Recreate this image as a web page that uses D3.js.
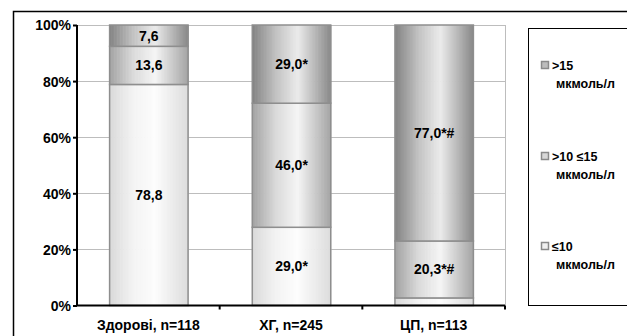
<!DOCTYPE html>
<html>
<head>
<meta charset="utf-8">
<script src="https://cdn.jsdelivr.net/npm/d3@7/dist/d3.min.js"></script>
<style>
  html, body { margin: 0; padding: 0; background: #fff; }
  svg { display: block; }
  svg text { font-family: "Liberation Sans", Arial, sans-serif; font-weight: bold; fill: #000; }
</style>
</head>
<body>
<svg id="chart" width="627" height="336"></svg>
<script>
// Groups along the x axis
const categories = ["Здорові, n=118", "ХГ, n=245", "ЦП, n=113"];
// Series, bottom to top: share of patients in each level band (%)
const seriesNames = ["≤10 мкмоль/л", ">10 ≤15 мкмоль/л", ">15 мкмоль/л"];
const low  = [78.8, 29.0, 2.7];
const mid  = [13.6, 46.0, 20.3];
const high = [7.6, 29.0, 77.0];
// Printed value labels
const lowLabels  = ["78,8", "29,0*", ""];
const midLabels  = ["13,6", "46,0*", "20,3*#"];
const highLabels = ["7,6", "29,0*", "77,0*#"];
const yTicks = [0, 0.2, 0.4, 0.6, 0.8, 1];

const svg = d3.select("#chart");

// cylinder shading per series: colour across the bar width (0 = left edge, 1 = right edge)
const shadeStops = [0, 0.3, 0.58, 1];
const shades = [
  ["#d9d9d9", "#f3f3f3", "#fdfdfd", "#dcdcdc"],
  ["#a2a2a2", "#dadada", "#f5f5f5", "#a4a4a4"],
  ["#838383", "#c2c2c2", "#ebebeb", "#888888"]
].map(c => d3.scaleLinear().domain(shadeStops).range(c).interpolate(d3.interpolateRgb));
const STRIPS = 52;

// outer frame
svg.append("rect")
  .attr("x", 13.5).attr("y", 11.5).attr("width", 660).attr("height", 360)
  .attr("fill", "#fff").attr("stroke", "#000").attr("stroke-width", 1.5);

const plotLeft = 77, plotRight = 505, plotTop = 25, plotBottom = 305.5;

const x = d3.scaleBand().domain(categories).range([plotLeft, plotRight]).paddingInner(0.45).paddingOuter(0.225);
const xEdges = d3.scaleBand().domain(categories).range([plotLeft, plotRight]);
const y = d3.scaleLinear().domain([0, 1]).range([plotBottom, plotTop]);

// gridlines
svg.append("g").selectAll("line").data(yTicks.filter(t => t > 0)).join("line")
  .attr("x1", plotLeft).attr("x2", plotRight)
  .attr("y1", d => Math.round(y(d)) + 0.5).attr("y2", d => Math.round(y(d)) + 0.5)
  .attr("stroke", "#bdbdbd").attr("stroke-width", 1);
svg.append("line")
  .attr("x1", plotRight + 0.5).attr("x2", plotRight + 0.5).attr("y1", y(1)).attr("y2", plotBottom)
  .attr("stroke", "#bdbdbd");

// stacked, normalised to 100%
const rows = categories.map((c, i) => ({ cat: c, s0: low[i], s1: mid[i], s2: high[i] }));
const stack = d3.stack().keys(["s0", "s1", "s2"]).offset(d3.stackOffsetExpand);
const stacked = stack(rows);
const labels = [lowLabels, midLabels, highLabels];
const bw = x.bandwidth();
const stripT = d3.range(STRIPS).map(k => k / STRIPS);

stacked.forEach((layer, si) => {
  const g = svg.append("g");
  const seg = g.selectAll("g.seg").data(layer).join("g").attr("class", "seg");
  // shaded fill, built from narrow vertical strips
  seg.selectAll("rect.strip")
    .data(d => stripT.map(t => ({ t, d })))
    .join("rect").attr("class", "strip")
    .attr("x", s => x(s.d.data.cat) + 0.5 + s.t * bw)
    .attr("width", bw / STRIPS + 0.6)
    .attr("y", s => y(s.d[1]))
    .attr("height", s => y(s.d[0]) - y(s.d[1]))
    .attr("fill", s => shades[si](s.t + 0.5 / STRIPS));
  // outline
  seg.append("rect")
    .attr("x", d => x(d.data.cat) + 0.5)
    .attr("width", bw)
    .attr("y", d => y(d[1]))
    .attr("height", d => y(d[0]) - y(d[1]))
    .attr("fill", "none")
    .attr("stroke", "#8e8e8e").attr("stroke-width", 1.5);
  g.selectAll("text").data(layer).join("text")
    .attr("x", d => x(d.data.cat) + bw / 2 + 0.5)
    .attr("y", d => (y(d[0]) + y(d[1])) / 2 + 5)
    .attr("text-anchor", "middle")
    .attr("font-size", 14)
    .text((d, i) => labels[si][i]);
});

// y axis
const yAxis = d3.axisLeft(y).tickValues(yTicks).tickFormat(d3.format(".0%")).tickSize(4);
const gy = svg.append("g").attr("transform", `translate(${plotLeft},0)`).call(yAxis);
gy.attr("font-family", null).attr("font-size", null);
gy.select(".domain").attr("stroke", "#000").attr("stroke-width", 2).attr("d", `M0,${plotTop}V${plotBottom}`);
gy.selectAll(".tick line").attr("stroke", "#000").attr("stroke-width", 2);
gy.selectAll(".tick text").attr("font-size", 14).attr("x", -6).attr("dy", "0.35em");

// x axis with boundary ticks
const gx = svg.append("g").attr("transform", `translate(0,${plotBottom})`);
gx.append("line").attr("x1", plotLeft).attr("x2", plotRight).attr("stroke", "#000").attr("stroke-width", 2);
const edges = categories.map(c => xEdges(c) + xEdges.bandwidth());
gx.selectAll("line.tk").data(edges).join("line").attr("class", "tk")
  .attr("x1", d => d).attr("x2", d => d).attr("y1", 0).attr("y2", 4)
  .attr("stroke", "#000").attr("stroke-width", 2);
gx.selectAll("text.cat").data(categories).join("text").attr("class", "cat")
  .attr("x", d => xEdges(d) + xEdges.bandwidth() / 2)
  .attr("y", 24.5)
  .attr("text-anchor", "middle")
  .attr("font-size", 14)
  .text(d => d);

// legend
svg.append("rect")
  .attr("x", 528.5).attr("y", 28.5).attr("width", 120).attr("height", 277)
  .attr("fill", "#fff").attr("stroke", "#000").attr("stroke-width", 1);
const legendItems = [
  { name: seriesNames[2], idx: 2, yc: 65 },
  { name: seriesNames[1], idx: 1, yc: 156 },
  { name: seriesNames[0], idx: 0, yc: 246 }
];
const markerFill = ["#f0f0f0", "#d8d8d8", "#bcbcbc"];
const lg = svg.append("g").selectAll("g").data(legendItems).join("g")
  .attr("transform", d => `translate(0,${d.yc})`);
lg.append("rect").attr("x", 541.5).attr("y", -3.5).attr("width", 7).attr("height", 7)
  .attr("fill", d => markerFill[d.idx]).attr("stroke", "#8a8a8a").attr("stroke-width", 1.5);
lg.each(function(d) {
  const parts = d.name.split(" мкмоль/л");
  const t = d3.select(this).append("text").attr("font-size", 12.5);
  t.append("tspan").attr("x", 552).attr("y", 5).text(parts[0]);
  t.append("tspan").attr("x", 556).attr("y", 23).text("мкмоль/л");
});
</script>
</body>
</html>
